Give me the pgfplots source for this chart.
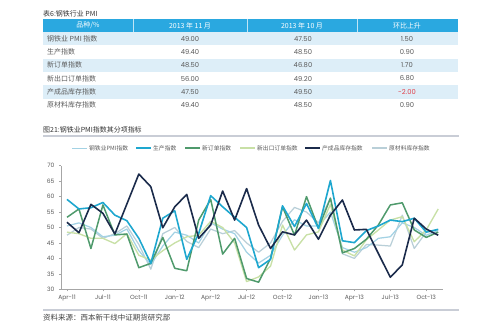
\documentclass[border=0pt]{standalone}
\usepackage{fontspec}
\setmainfont{Poppins}
\newfontfamily\cjk{Noto Sans CJK SC}
\usepackage{pgfplots}
\pgfplotsset{compat=1.18}
\definecolor{hdrblue}{HTML}{2AA8E0}
\definecolor{rowblue}{HTML}{DDEEF8}
\definecolor{txtgray}{HTML}{5A5A5A}
\definecolor{rulegray}{HTML}{C9CDD6}
\definecolor{axgray}{HTML}{A6A6A6}
\definecolor{negred}{HTML}{E0404A}
\definecolor{cPMI}{HTML}{A3D2E4}
\definecolor{cProd}{HTML}{1EA7CF}
\definecolor{cNew}{HTML}{4F9A6C}
\definecolor{cExp}{HTML}{C8E0A6}
\definecolor{cFin}{HTML}{1B2B4B}
\definecolor{cRaw}{HTML}{B9CFD8}
\begin{document}
\begin{tikzpicture}
\useasboundingbox (0,0) rectangle (499bp,-329bp);
\begin{scope}[x=1bp,y=-1bp]
% table title
\node[anchor=west,inner sep=0pt,text=black!80] at (43,13.5) {\cjk\fontsize{7}{8}\selectfont 表6:钢铁行业 PMI};
% header
\fill[hdrblue] (43,19) rectangle (458,32);
\draw[white!70!hdrblue,line width=0.4bp] (133,19)--(133,32) (247,19)--(247,32) (357,19)--(357,32);
\node[text=white,inner sep=0pt] at (88,25.6) {\cjk\fontsize{7}{8}\selectfont 品种/\%};
\node[text=white,inner sep=0pt] at (190,25.6) {\cjk\fontsize{7}{8}\selectfont 2013 年 11 月};
\node[text=white,inner sep=0pt] at (302,25.6) {\cjk\fontsize{7}{8}\selectfont 2013 年 10 月};
\node[text=white,inner sep=0pt] at (407,25.6) {\cjk\fontsize{7}{8}\selectfont 环比上升};
% rows
\fill[rowblue] (43,32) rectangle (458,45.3);
\fill[rowblue] (43,58.6) rectangle (458,71.9);
\fill[rowblue] (43,85.2) rectangle (458,98.5);
\foreach \y/\a/\b/\c/\d in {38.65/钢铁业 PMI 指数/49.00/47.50/1.50,
  51.95/生产指数/49.40/48.50/0.90,
  65.25/新订单指数/48.50/46.80/1.70,
  78.55/新出口订单指数/56.00/49.20/6.80,
  105.15/原材料库存指数/49.40/48.50/0.90}{
  \node[anchor=west,inner sep=0pt,text=txtgray] at (47,\y) {\cjk\fontsize{7}{8}\selectfont \a};
  \node[inner sep=0pt,text=txtgray] at (190,\y) {\fontsize{6.8}{8}\selectfont \b};
  \node[inner sep=0pt,text=txtgray] at (303,\y) {\fontsize{6.8}{8}\selectfont \c};
  \node[inner sep=0pt,text=txtgray] at (407,\y) {\fontsize{6.8}{8}\selectfont \d};
}
\node[anchor=west,inner sep=0pt,text=txtgray] at (47,91.85) {\cjk\fontsize{7}{8}\selectfont 产成品库存指数};
\node[inner sep=0pt,text=txtgray] at (190,91.85) {\fontsize{6.8}{8}\selectfont 47.50};
\node[inner sep=0pt,text=txtgray] at (303,91.85) {\fontsize{6.8}{8}\selectfont 49.50};
\node[inner sep=0pt,text=negred] at (407,91.85) {\fontsize{6.8}{8}\selectfont -2.00};
% figure title
\node[anchor=west,inner sep=0pt,text=black!80] at (43,130) {\cjk\fontsize{7}{8}\selectfont 图21:钢铁业PMI指数其分项指标};
\draw[rulegray,line width=1.6bp] (43,136) -- (459,136);
% legend
\foreach \xa/\c/\w/\t in {72/cPMI/1.0/钢铁业PMI指数,136/cProd/1.5/生产指数,185/cNew/1.5/新订单指数,240/cExp/1.3/新出口订单指数,305/cFin/1.5/产成品库存指数,372/cRaw/1.1/原材料库存指数}{
  \draw[\c,line width=\w bp] (\xa,148) -- ++(15,0);
  \node[anchor=west,inner sep=0pt,text=txtgray] at (\xa+17,148) {\cjk\fontsize{5.8}{6}\selectfont \t};
}
% bottom rule and source
\draw[rulegray,line width=1.6bp] (43,310) -- (459,310);
\node[anchor=west,inner sep=0pt,text=black!75] at (43,317.5) {\cjk\fontsize{7.5}{8}\selectfont 资料来源：西本新干线中证期货研究部};
\end{scope}
\begin{axis}[at={(61bp,-289.3bp)},anchor=south west,scale only axis,
  width=382bp,height=123.6bp,
  xmin=-0.5,xmax=31.4,ymin=30,ymax=70,
  axis x line*=bottom, axis y line*=left,
  axis line style={axgray,line width=0.6bp},
  ytick={30,35,...,70},
  xtick={0,3,...,30},
  xticklabels={Apr-11,Jul-11,Oct-11,Jan-12,Apr-12,Jul-12,Oct-12,Jan-13,Apr-13,Jul-13,Oct-13},
  tick align=outside, major tick length=2bp,
  tick style={axgray,line width=0.5bp},
  /pgf/number format/assume math mode=true,
  ticklabel style={font=\fontsize{6}{7}\selectfont,text=txtgray},
  yticklabel style={xshift=-1bp},
  clip=false,
  every axis plot/.append style={no marks, line join=round},
]
\addplot[cRaw,line width=1.25bp] coordinates {(0,47.5)(1,50.0)(2,49.5)(3,46.5)(4,48.0)(5,50.5)(6,44.5)(7,36.5)(8,48.0)(9,50.0)(10,45.5)(11,43.5)(12,49.5)(13,48.0)(14,49.0)(15,45.0)(16,42.0)(17,45.0)(18,52.0)(19,56.5)(20,55.0)(21,51.5)(22,59.5)(23,41.5)(24,40.0)(25,44.5)(26,44.3)(27,44.0)(28,54.0)(29,43.2)(30,48.5)(31,49.4)};
\addplot[cPMI,line width=1.25bp] coordinates {(0,50.5)(1,51.5)(2,50.0)(3,47.0)(4,47.5)(5,49.5)(6,42.5)(7,38.0)(8,44.0)(9,48.5)(10,47.5)(11,45.0)(12,51.5)(13,49.5)(14,48.0)(15,42.0)(16,38.5)(17,41.0)(18,47.5)(19,52.5)(20,50.5)(21,50.5)(22,55.0)(23,43.5)(24,42.0)(25,43.5)(26,46.5)(27,47.0)(28,51.5)(29,50.0)(30,47.5)(31,49.0)};
\addplot[cExp,line width=1.35bp] coordinates {(0,48.5)(1,48.0)(2,46.5)(3,46.5)(4,44.8)(5,48.0)(6,41.0)(7,39.5)(8,42.5)(9,45.0)(10,47.0)(11,47.5)(12,52.0)(13,50.0)(14,45.0)(15,32.5)(16,34.0)(17,37.5)(18,50.8)(19,42.7)(20,47.6)(21,48.6)(22,57.5)(23,42.7)(24,40.8)(25,46.0)(26,49.2)(27,52.4)(28,53.5)(29,45.4)(30,49.2)(31,56.0)};
\addplot[cNew,line width=1.5bp] coordinates {(0,53.3)(1,56.0)(2,43.2)(3,57.3)(4,47.6)(5,47.9)(6,37.0)(7,38.4)(8,46.8)(9,36.8)(10,36.0)(11,52.4)(12,59.1)(13,41.4)(14,46.5)(15,33.5)(16,32.3)(17,40.0)(18,56.7)(19,47.5)(20,60.0)(21,49.8)(22,59.5)(23,41.8)(24,43.2)(25,46.2)(26,50.8)(27,57.3)(28,58.0)(29,49.2)(30,46.8)(31,48.5)};
\addplot[cProd,line width=1.6bp] coordinates {(0,59.1)(1,56.0)(2,56.4)(3,58.1)(4,54.0)(5,52.2)(6,46.5)(7,38.4)(8,53.0)(9,55.4)(10,39.7)(11,48.1)(12,60.3)(13,56.7)(14,53.3)(15,50.0)(16,37.0)(17,39.7)(18,57.0)(19,50.3)(20,57.8)(21,49.7)(22,65.2)(23,45.7)(24,45.1)(25,49.0)(26,50.5)(27,52.4)(28,51.9)(29,53.0)(30,48.5)(31,49.4)};
\addplot[cFin,line width=1.6bp] coordinates {(0,51.7)(1,48.3)(2,57.5)(3,54.6)(4,47.9)(5,57.6)(6,67.3)(7,63.2)(8,49.9)(9,56.7)(10,60.7)(11,46.5)(12,50.8)(13,61.8)(14,52.4)(15,62.6)(16,50.8)(17,43.2)(18,48.6)(19,47.6)(20,52.4)(21,46.2)(22,54.0)(23,58.9)(24,49.2)(25,49.4)(26,41.6)(27,33.9)(28,37.9)(29,53.0)(30,49.5)(31,47.5)};
\end{axis}
\end{tikzpicture}
\end{document}
